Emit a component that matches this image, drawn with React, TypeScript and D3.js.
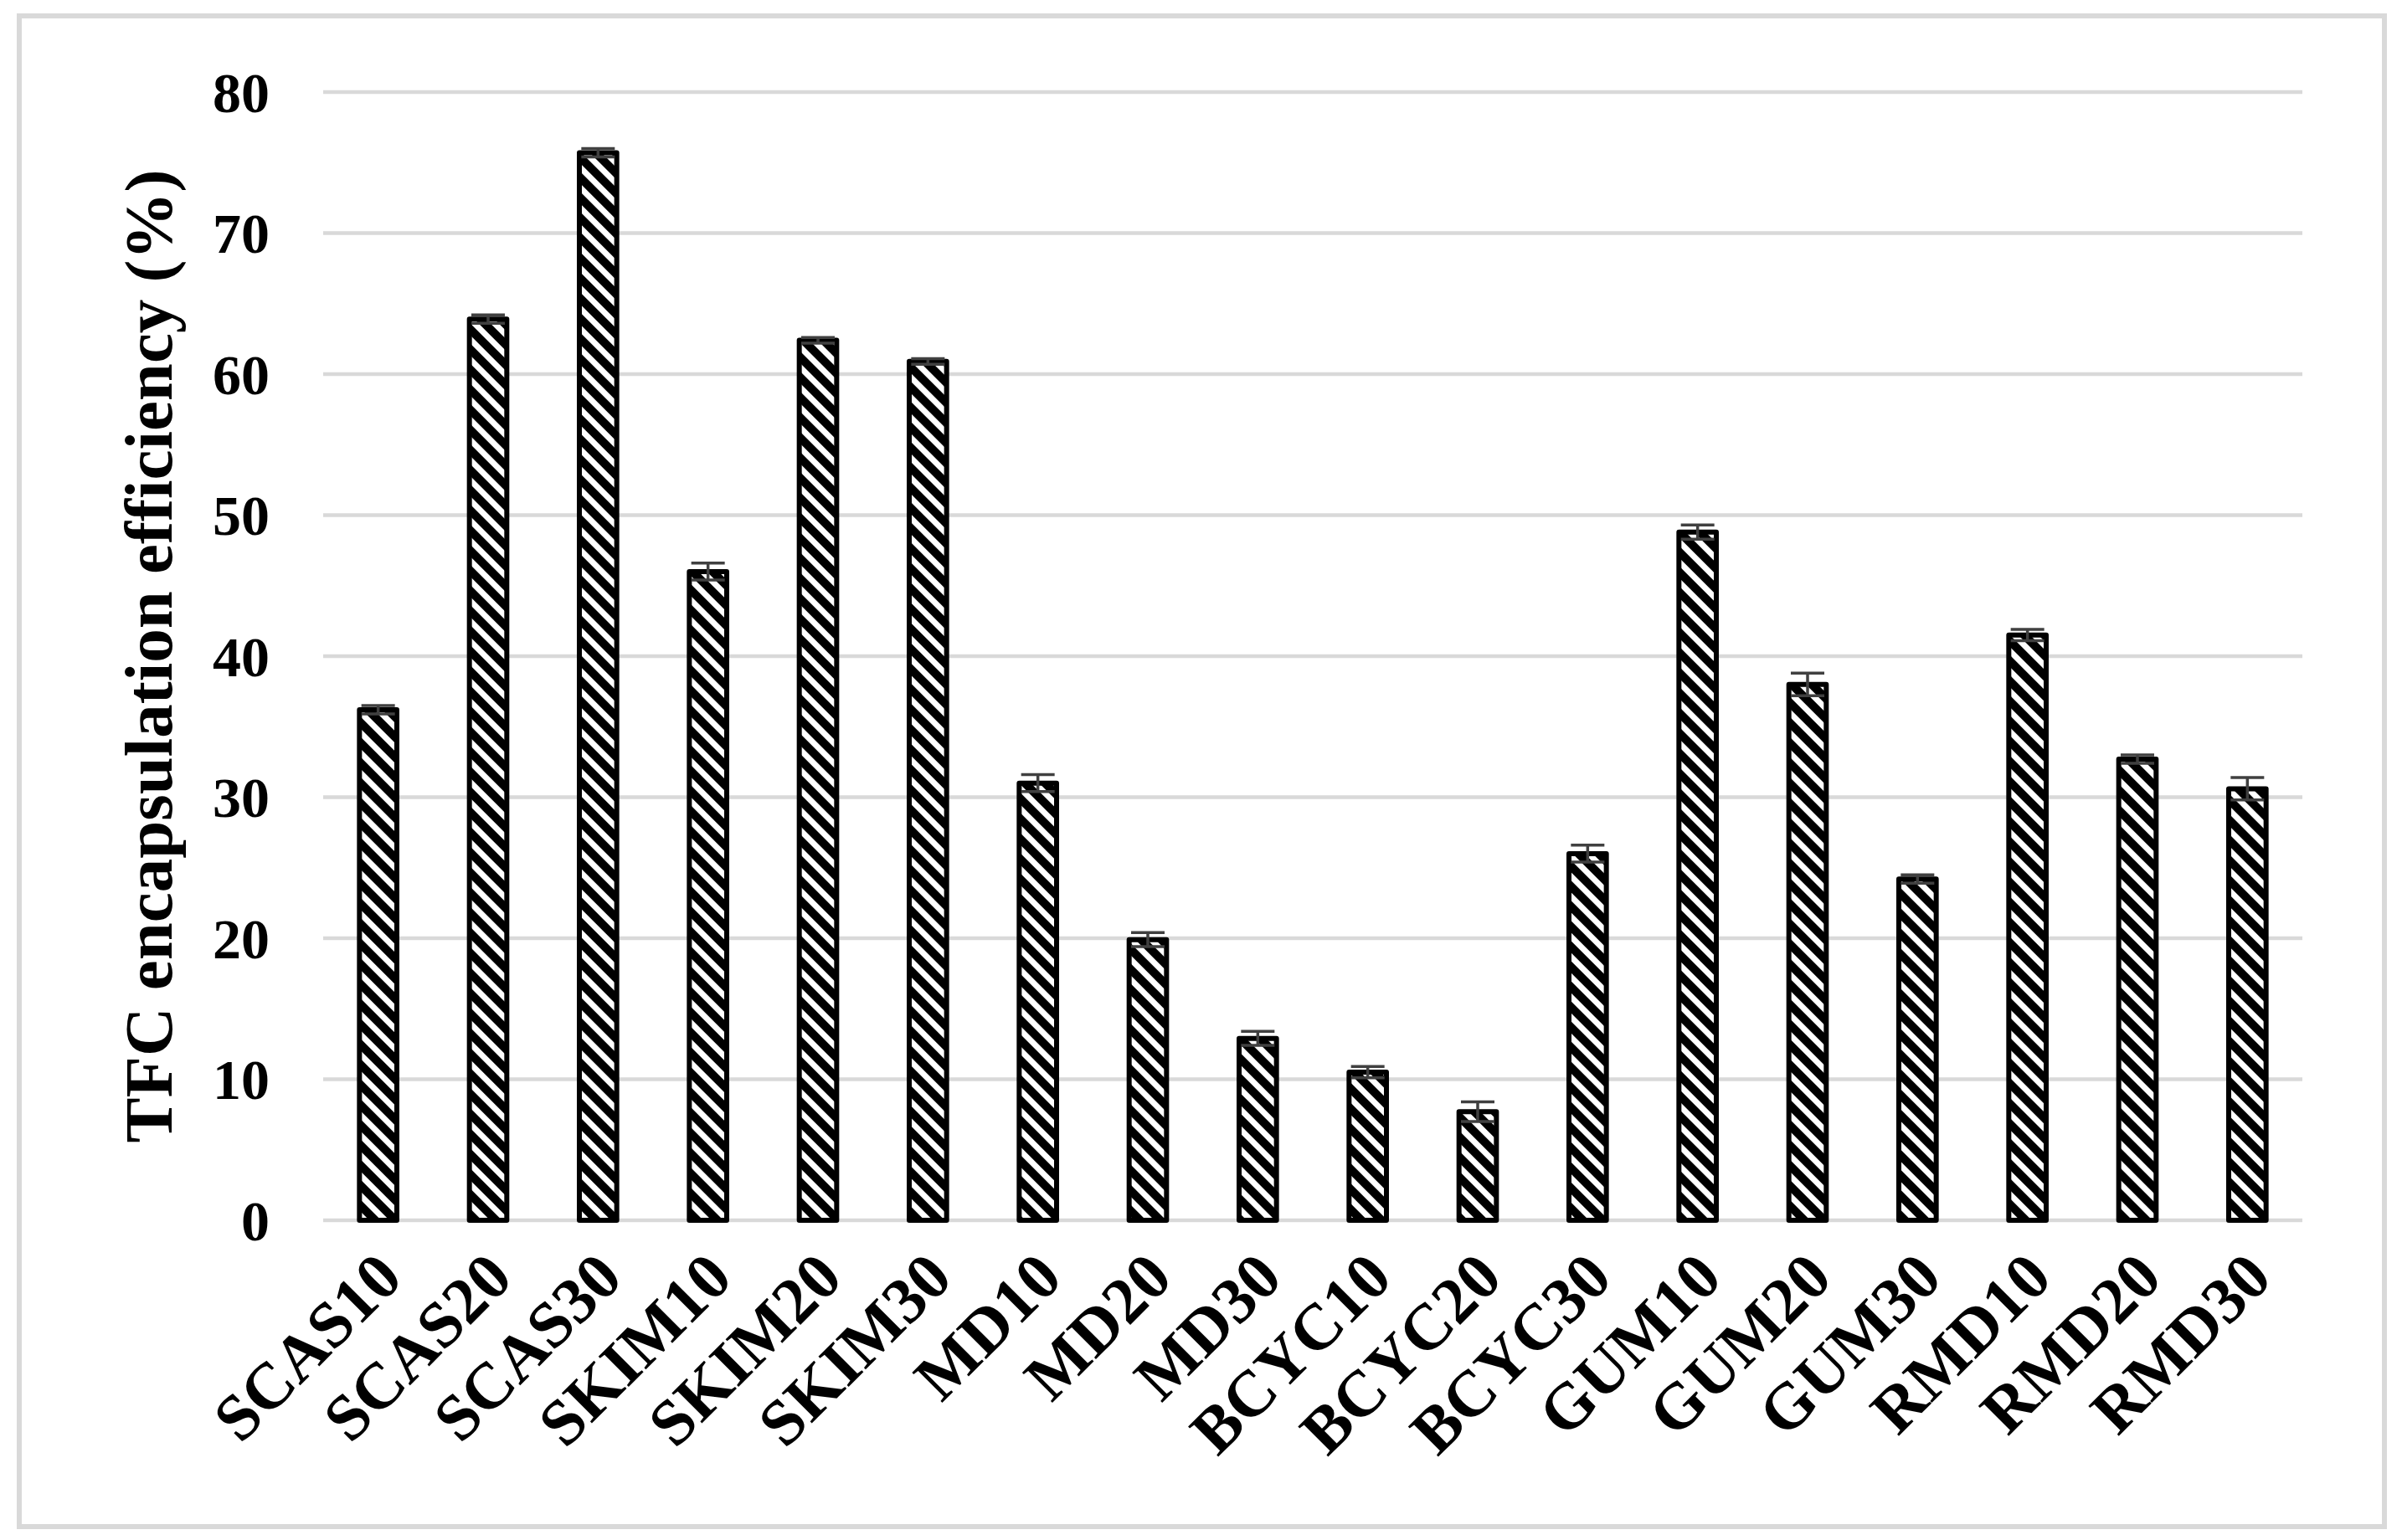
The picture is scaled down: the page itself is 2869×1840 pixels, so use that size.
import React from 'react';
import { scaleBand, scaleLinear } from 'd3';

// categories and values
const categories = [
    'SCAS10', 'SCAS20', 'SCAS30', 'SKIM10', 'SKIM20', 'SKIM30',
    'MD10', 'MD20', 'MD30', 'BCYC10', 'BCYC20', 'BCYC30',
    'GUM10', 'GUM20', 'GUM30', 'RMD10', 'RMD20', 'RMD30',
];
const efficiency = [
    36.2, 63.9, 75.7, 46.0, 62.4, 60.9,
    31.0, 19.9, 12.9, 10.5, 7.7, 26.0,
    48.8, 38.0, 24.2, 41.5, 32.7, 30.6,
];
const errors = [
    0.3, 0.3, 0.3, 0.6, 0.2, 0.2,
    0.6, 0.5, 0.5, 0.4, 0.7, 0.6,
    0.5, 0.8, 0.3, 0.4, 0.3, 0.8,
];
const yTicks = [0, 10, 20, 30, 40, 50, 60, 70, 80];
const yLabel = 'TFC encapsulation efficiency (%)';

const W = 2869;
const H = 1840;
const font = '"Liberation Serif", "Times New Roman", serif';

export default function App() {
    const left = 386;
    const right = 2750;
    const top = 110;
    const bottom = 1458;

    const x = scaleBand<string>()
        .domain(categories)
        .range([left, right])
        .paddingInner(0.66)
        .paddingOuter(0.33);
    const y = scaleLinear().domain([0, 80]).range([bottom, top]);

    const capW = 40;

    return (
        <div style={{ position: 'absolute', left: 0, top: 0 }}>
            <svg width={W} height={H} style={{ display: 'block', background: '#fff' }}>
                <defs>
                    <pattern id="hatch" patternUnits="userSpaceOnUse" width={17} height={17}
                        patternTransform="rotate(-45)">
                        <rect width={17} height={17} fill="#000" />
                        <rect x={5} width={7} height={17} fill="#fff" />
                    </pattern>
                </defs>

                {/* outer frame */}
                <rect x={23} y={19} width={2825} height={1805} fill="none" stroke="#d9d9d9" strokeWidth={6} />

                {/* gridlines */}
                {yTicks.map(t => (
                    <line key={t} x1={left} x2={right} y1={y(t)} y2={y(t)} stroke="#d9d9d9" strokeWidth={4.5} />
                ))}

                {/* y tick labels */}
                {yTicks.map(t => (
                    <text key={'t' + t} x={322} y={y(t)} dy="0.35em" textAnchor="end"
                        fontFamily={font} fontWeight="bold" fontSize={68} fill="#000">{t}</text>
                ))}

                {/* y axis title */}
                <text transform={`translate(205,${(top + bottom) / 2}) rotate(-90)`} textAnchor="middle"
                    fontFamily={font} fontWeight="bold" fontSize={81} fill="#000">{yLabel}</text>

                {/* bars */}
                {categories.map((c, i) => (
                    <rect key={c} x={x(c)} y={y(efficiency[i])} width={x.bandwidth()}
                        height={y(0) - y(efficiency[i])} fill="url(#hatch)" stroke="#000"
                        strokeWidth={6} strokeLinejoin="round" />
                ))}

                {/* error bars */}
                {categories.map((c, i) => {
                    const cx = (x(c) as number) + x.bandwidth() / 2;
                    const hi = y(efficiency[i] + errors[i]);
                    const lo = y(efficiency[i] - errors[i]);
                    return (
                        <g key={'e' + c} stroke="#404040" strokeWidth={3.5}>
                            <line x1={cx} x2={cx} y1={hi} y2={lo} />
                            <line x1={cx - capW / 2} x2={cx + capW / 2} y1={hi} y2={hi} />
                            <line x1={cx - capW / 2} x2={cx + capW / 2} y1={lo} y2={lo} />
                        </g>
                    );
                })}

                {/* x labels */}
                {categories.map(c => {
                    const cx = (x(c) as number) + x.bandwidth() / 2;
                    return (
                        <text key={'l' + c} transform={`translate(${cx + 32},${bottom + 72}) rotate(-45)`}
                            textAnchor="end" fontFamily={font} fontWeight="bold" fontSize={78}
                            fill="#000">{c}</text>
                    );
                })}
            </svg>
        </div>
    );
}
